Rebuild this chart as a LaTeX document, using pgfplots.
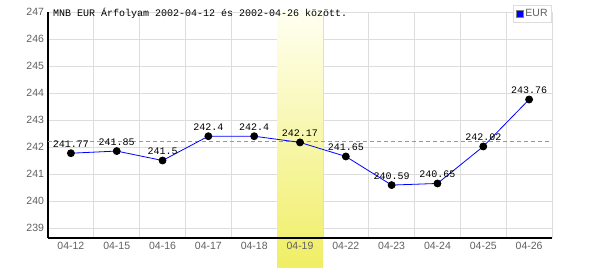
\documentclass[border=0pt]{standalone}
\usepackage{pgfplots}
\pgfplotsset{compat=1.18}
\usepackage{fontspec}
\setmainfont{Liberation Sans}
\newfontfamily\monofont{Liberation Mono}
\definecolor{gridgray}{RGB}{221,221,221}
\definecolor{ticktext}{RGB}{96,96,96}
\definecolor{bandtop}{RGB}{255,255,242}
\definecolor{bandbot}{RGB}{240,238,100}
\definecolor{avgblue}{RGB}{140,140,255}
\pgfplotsset{
  layers/mylayers/.define layer set={
    axis background,axis grid,pre main,axis ticks,axis lines,axis tick labels,main,axis descriptions,axis foreground
  }{
    grid style={/pgfplots/on layer=axis grid},
    tick style={/pgfplots/on layer=axis ticks},
    axis line style={/pgfplots/on layer=axis lines},
    label style={/pgfplots/on layer=axis descriptions},
    legend style={/pgfplots/on layer=axis descriptions},
    title style={/pgfplots/on layer=axis descriptions},
    ticklabel style={/pgfplots/on layer=axis tick labels},
  },
}
\begin{document}
\begin{tikzpicture}
\begin{axis}[
  set layers=mylayers,
  at={(48pt,32pt)}, anchor=south west,
  scale only axis, width=504pt, height=226pt,
  xmin=-0.5, xmax=10.5, ymin=238.63, ymax=247,
  clip=false,
  /pgf/number format/assume math mode=true,
  axis x line*=bottom, axis y line*=left,
  axis line style={black, line width=1.2pt},
  xtick={0,...,10},
  xticklabels={04-12,04-15,04-16,04-17,04-18,04-19,04-22,04-23,04-24,04-25,04-26},
  minor xtick={-0.5,0.5,...,10.5},
  xminorgrids,
  ytick={239,...,247},
  ymajorgrids,
  major tick length=0pt, minor tick length=0pt,
  grid style={gridgray, line width=0.8pt},
  minor grid style={gridgray, line width=0.8pt},
  tick label style={font=\fontsize{10.5}{12}\selectfont, text=ticktext},
  xticklabel style={yshift=-1pt},
  yticklabel style={xshift=-0.5pt},
  legend style={at={(1,1)}, anchor=north east, yshift=7pt, draw=gridgray, fill=white,
    font=\fontsize{10.5}{12}\selectfont, text=ticktext, inner sep=2pt, line width=0.8pt},
  legend cell align=left,
]
\addplot[avgblue, line width=0.8pt, dash pattern=on 4pt off 3pt, forget plot]
  coordinates {(-0.5,242.19) (10.5,242.19)};
\begin{pgfonlayer}{pre main}
\shade[top color=bandtop, bottom color=bandbot] (axis cs:4.5,237.52) rectangle (axis cs:5.5,247.07);
\end{pgfonlayer}
\addplot[blue, line width=0.8pt, mark=*, mark size=3.5pt,
  mark options={black, fill=black},
  point meta=explicit symbolic,
  nodes near coords,
  every node near coord/.append style={black, font=\monofont\fontsize{10}{12}\selectfont, yshift=2pt},
  legend image code/.code={\draw[fill=blue, draw=gray, line width=0.6pt] (0pt,-3.5pt) rectangle (7pt,3.5pt);}]
  table[meta=label] {
x y label
0 241.77 241.77
1 241.85 241.85
2 241.5 241.5
3 242.4 242.4
4 242.4 242.4
5 242.17 242.17
6 241.65 241.65
7 240.59 240.59
8 240.65 240.65
9 242.02 242.02
10 243.76 243.76
};
\addlegendentry{EUR}
\end{axis}
\node[anchor=base west, inner sep=0pt, font=\monofont\fontsize{10}{12}\selectfont, text=black] at (53pt,253.5pt) {MNB EUR Árfolyam 2002-04-12 és 2002-04-26 között.};
\pgfresetboundingbox
\useasboundingbox (0,0) rectangle (600pt,270pt);
\end{tikzpicture}
\end{document}
